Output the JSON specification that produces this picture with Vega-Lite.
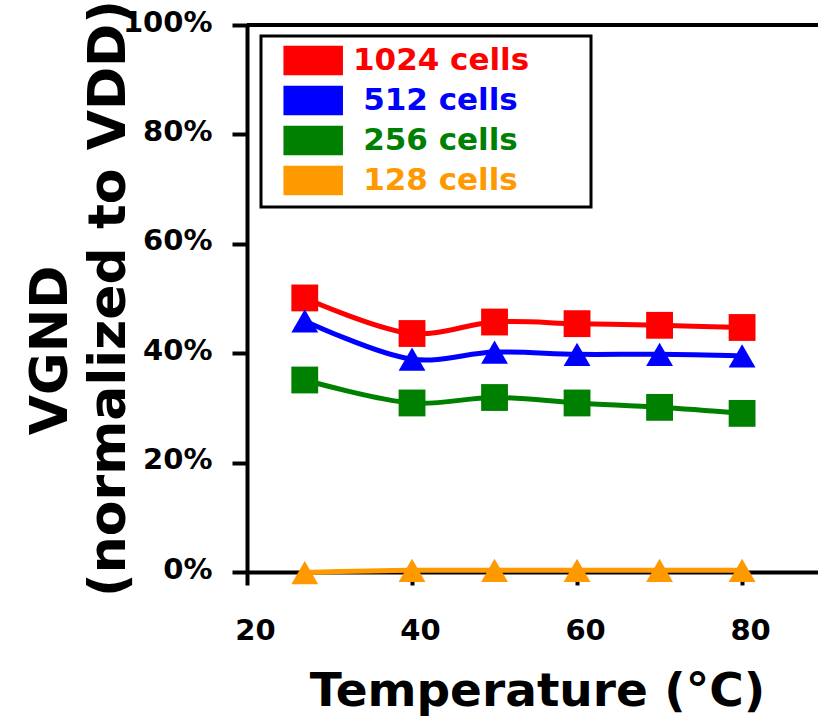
{
  "$schema": "https://vega.github.io/schema/vega-lite/v6.json",
  "width": 571,
  "height": 547,
  "autosize": {"type": "none"},
  "padding": {"left": 247, "top": 25, "right": 0, "bottom": 144},
  "background": "white",
  "config": {
    "view": {"stroke": null},
    "font": "DejaVu Sans",
    "axis": {
      "grid": false,
      "domainColor": "black",
      "domainWidth": 4,
      "tickColor": "black",
      "tickWidth": 4,
      "labelColor": "black",
      "labelFont": "DejaVu Sans",
      "labelFontWeight": "bold",
      "labelFontSize": 29,
      "labelFlush": false,
      "labelOverlap": false,
      "titleFont": "DejaVu Sans",
      "titleFontWeight": "bold",
      "titleColor": "black"
    }
  },
  "data": {
    "values": [
      {"series": "1024 cells", "temp": 27, "v": 0.501},
      {"series": "1024 cells", "temp": 40, "v": 0.436},
      {"series": "1024 cells", "temp": 50, "v": 0.457},
      {"series": "1024 cells", "temp": 60, "v": 0.454},
      {"series": "1024 cells", "temp": 70, "v": 0.451},
      {"series": "1024 cells", "temp": 80, "v": 0.447},
      {"series": "512 cells", "temp": 27, "v": 0.459},
      {"series": "512 cells", "temp": 40, "v": 0.389},
      {"series": "512 cells", "temp": 50, "v": 0.402},
      {"series": "512 cells", "temp": 60, "v": 0.398},
      {"series": "512 cells", "temp": 70, "v": 0.398},
      {"series": "512 cells", "temp": 80, "v": 0.395},
      {"series": "256 cells", "temp": 27, "v": 0.351},
      {"series": "256 cells", "temp": 40, "v": 0.309},
      {"series": "256 cells", "temp": 50, "v": 0.319},
      {"series": "256 cells", "temp": 60, "v": 0.309},
      {"series": "256 cells", "temp": 70, "v": 0.301},
      {"series": "256 cells", "temp": 80, "v": 0.290},
      {"series": "128 cells", "temp": 27, "v": -0.001},
      {"series": "128 cells", "temp": 40, "v": 0.003},
      {"series": "128 cells", "temp": 50, "v": 0.003},
      {"series": "128 cells", "temp": 60, "v": 0.003},
      {"series": "128 cells", "temp": 70, "v": 0.003},
      {"series": "128 cells", "temp": 80, "v": 0.003}
    ]
  },
  "layer": [
    {
      "mark": {"type": "line", "strokeWidth": 5, "interpolate": "catmull-rom"},
      "encoding": {
        "x": {
          "field": "temp", "type": "quantitative",
          "scale": {"domain": [20, 89.2], "nice": false, "zero": false},
          "axis": {
            "values": [20, 40, 60, 80],
            "tickSize": 13,
            "labelOffset": 8,
            "labelPadding": 31,
            "title": "Temperature (°C)",
            "titleFontSize": 47,
            "titleBaseline": "alphabetic",
            "titleY": 133,
            "titleX": 290
          }
        },
        "y": {
          "field": "v", "type": "quantitative",
          "scale": {"domain": [0, 1], "nice": false},
          "axis": {
            "values": [0, 0.2, 0.4, 0.6, 0.8, 1],
            "format": ".0%",
            "tickSize": 15,
            "labelPadding": 20,
            "labelOffset": -3,
            "title": ["VGND\u2003\u2003\u200b", "(normalized to VDD)"],
            "titleFontSize": 52,
            "titleAngle": -90,
            "titleAlign": "center",
            "titleBaseline": "middle",
            "titleLineHeight": 58,
            "titleX": -197,
            "titleY": 273
          }
        },
        "color": {
          "field": "series", "type": "nominal",
          "scale": {"domain": ["1024 cells", "512 cells", "256 cells", "128 cells"], "range": ["#FF0000", "#0000FF", "#008000", "#FF9900"]},
          "legend": {
            "orient": "none", "legendX": 14, "legendY": 11, "title": null,
            "padding": 9, "strokeColor": "black", "fillColor": "white",
            "labelFont": "DejaVu Sans", "labelFontWeight": "bold", "labelFontSize": 31,
            "labelOffset": 52, "labelLimit": 500, "rowPadding": 5,
            "symbolSize": 784, "symbolType": "M-0.093,-1H4.05V1H-0.093Z",
            "symbolStrokeColor": "black", "symbolStrokeWidth": 1.5, "symbolOpacity": 1,
            "labelExpr": "datum.label == '1024 cells' ? datum.label + '\u2003\u2002\u2009\u200b' : '\u200b\u2004' + datum.label",
            "encode": {
              "legend": {"update": {"strokeWidth": {"value": 3}}},
              "labels": {"update": {"fill": {"signal": "scale('color', datum.value)"}, "text": {"signal": "datum.value == '1024 cells' ? datum.value + '\u2003\u2002\u2009\u200b' : '\u200b\u2004' + datum.value"}}},
              "symbols": {"update": {"fill": {"signal": "scale('color', datum.value)"}, "stroke": {"value": "black"}, "strokeWidth": {"value": 1.5}, "shape": {"value": "M-0.093,-1H4.05V1H-0.093Z"}, "size": {"value": 784}, "opacity": {"value": 1}}}
            }
          }
        }
      }
    },
    {
      "transform": [{"filter": "datum.series == '1024 cells' || datum.series == '256 cells'"}],
      "mark": {"type": "point", "filled": true, "opacity": 1, "size": 720, "shape": "square"},
      "encoding": {
        "x": {"field": "temp", "type": "quantitative"},
        "y": {"field": "v", "type": "quantitative"},
        "color": {
          "field": "series", "type": "nominal",
          "legend": {
            "orient": "none", "legendX": 14, "legendY": 11, "title": null,
            "padding": 9, "strokeColor": "black", "fillColor": "white",
            "labelFont": "DejaVu Sans", "labelFontWeight": "bold", "labelFontSize": 31,
            "labelOffset": 52, "labelLimit": 500, "rowPadding": 5,
            "symbolSize": 784, "symbolType": "M-0.093,-1H4.05V1H-0.093Z",
            "symbolStrokeColor": "black", "symbolStrokeWidth": 1.5, "symbolOpacity": 1,
            "labelExpr": "datum.label == '1024 cells' ? datum.label + '\u2003\u2002\u2009\u200b' : '\u200b\u2004' + datum.label",
            "encode": {
              "legend": {"update": {"strokeWidth": {"value": 3}}},
              "labels": {"update": {"fill": {"signal": "scale('color', datum.value)"}, "text": {"signal": "datum.value == '1024 cells' ? datum.value + '\u2003\u2002\u2009\u200b' : '\u200b\u2004' + datum.value"}}},
              "symbols": {"update": {"fill": {"signal": "scale('color', datum.value)"}, "stroke": {"value": "black"}, "strokeWidth": {"value": 1.5}, "shape": {"value": "M-0.093,-1H4.05V1H-0.093Z"}, "size": {"value": 784}, "opacity": {"value": 1}}}
            }
          }
        }
      }
    },
    {
      "transform": [{"filter": "datum.series == '512 cells' || datum.series == '128 cells'"}],
      "mark": {"type": "point", "filled": true, "opacity": 1, "size": 720, "shape": "triangle-up"},
      "encoding": {
        "x": {"field": "temp", "type": "quantitative"},
        "y": {"field": "v", "type": "quantitative"},
        "color": {
          "field": "series", "type": "nominal",
          "legend": {
            "orient": "none", "legendX": 14, "legendY": 11, "title": null,
            "padding": 9, "strokeColor": "black", "fillColor": "white",
            "labelFont": "DejaVu Sans", "labelFontWeight": "bold", "labelFontSize": 31,
            "labelOffset": 52, "labelLimit": 500, "rowPadding": 5,
            "symbolSize": 784, "symbolType": "M-0.093,-1H4.05V1H-0.093Z",
            "symbolStrokeColor": "black", "symbolStrokeWidth": 1.5, "symbolOpacity": 1,
            "labelExpr": "datum.label == '1024 cells' ? datum.label + '\u2003\u2002\u2009\u200b' : '\u200b\u2004' + datum.label",
            "encode": {
              "legend": {"update": {"strokeWidth": {"value": 3}}},
              "labels": {"update": {"fill": {"signal": "scale('color', datum.value)"}, "text": {"signal": "datum.value == '1024 cells' ? datum.value + '\u2003\u2002\u2009\u200b' : '\u200b\u2004' + datum.value"}}},
              "symbols": {"update": {"fill": {"signal": "scale('color', datum.value)"}, "stroke": {"value": "black"}, "strokeWidth": {"value": 1.5}, "shape": {"value": "M-0.093,-1H4.05V1H-0.093Z"}, "size": {"value": 784}, "opacity": {"value": 1}}}
            }
          }
        }
      }
    },
    {
      "mark": {"type": "rule", "color": "black", "strokeWidth": 4},
      "encoding": {"y": {"datum": 1, "type": "quantitative"}}
    }
  ]
}
